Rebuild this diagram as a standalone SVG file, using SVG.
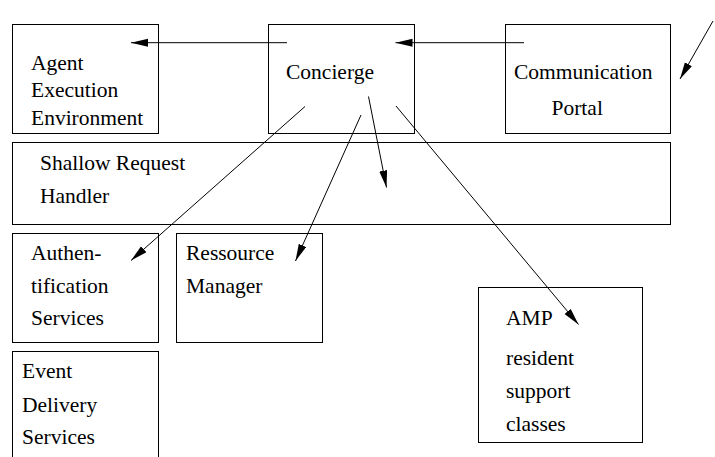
<svg xmlns="http://www.w3.org/2000/svg" width="715" height="457" viewBox="0 0 715 457">
<style>
.box{fill:#fff;stroke:#000;stroke-width:1}
.t{font-family:"Liberation Serif","Times New Roman",serif;font-size:21.5px;fill:#000}
.c{stroke:#000;stroke-width:1;fill:none;marker-end:url(#ah)}
</style>
<defs>
<marker id="ah" markerUnits="userSpaceOnUse" markerWidth="18" markerHeight="10" refX="17" refY="4" orient="auto">
<path d="M0,0 L17,4 L0,8 z" fill="#000"/>
</marker>
</defs>
<rect width="715" height="457" fill="#fff"/>
<g id="agent"><rect class="box" x="12.5" y="24.5" width="146" height="109"/>
<text class="t" x="31" y="70">Agent</text><text class="t" x="31" y="97">Execution</text><text class="t" x="31" y="125">Environment</text></g>
<g id="concierge"><rect class="box" x="268.5" y="24.5" width="146" height="109"/>
<text class="t" x="286" y="79">Concierge</text></g>
<g id="portal"><rect class="box" x="505.5" y="24.5" width="165" height="109"/>
<text class="t" x="514" y="79">Communication</text><text class="t" x="551.5" y="115">Portal</text></g>
<g id="shallow"><rect class="box" x="12.5" y="142.5" width="658" height="82"/>
<text class="t" x="40" y="170">Shallow Request</text><text class="t" x="40" y="203">Handler</text></g>
<g id="auth"><rect class="box" x="12.5" y="233.5" width="146" height="109"/>
<text class="t" x="31" y="260">Authen-</text><text class="t" x="31" y="293">tification</text><text class="t" x="31" y="325">Services</text></g>
<g id="ressource"><rect class="box" x="176.5" y="233.5" width="146" height="109"/>
<text class="t" x="186" y="260">Ressource</text><text class="t" x="186" y="293">Manager</text></g>
<g id="event"><rect class="box" x="12.5" y="351.5" width="146" height="120"/>
<text class="t" x="22" y="378">Event</text><text class="t" x="22" y="411.5">Delivery</text><text class="t" x="22" y="444">Services</text></g>
<g id="amp"><rect class="box" x="478.5" y="287.5" width="164" height="155"/>
<text class="t" x="506" y="325">AMP</text><text class="t" x="506" y="365">resident</text><text class="t" x="506" y="398">support</text><text class="t" x="506" y="431">classes</text></g>
<g id="connectors">
<line class="c" x1="287" y1="42.7" x2="131" y2="42.7"/>
<line class="c" x1="524" y1="42.7" x2="395.5" y2="42.7"/>
<line class="c" x1="713" y1="21" x2="680" y2="79"/>
<line class="c" x1="305" y1="106.5" x2="131" y2="260.5"/>
<line class="c" x1="361" y1="115" x2="295.5" y2="261"/>
<line class="c" x1="368.5" y1="96.5" x2="386.5" y2="187.5"/>
<line class="c" x1="396" y1="106" x2="578.5" y2="324.5"/>
</g>
</svg>
